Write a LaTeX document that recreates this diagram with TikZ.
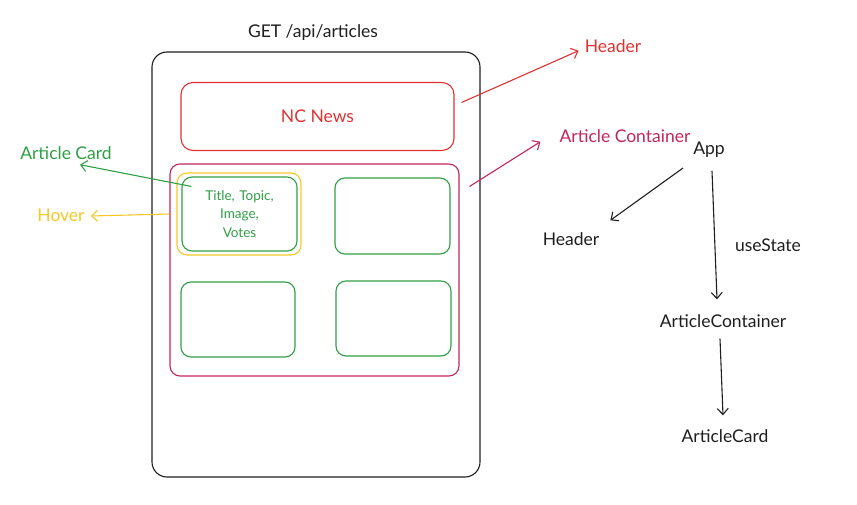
\documentclass[tikz,border=0pt]{standalone}
\usepackage{fontspec}
\setmainfont{Lato}
\usepackage{xcolor}
\usepackage{tikz}
\usetikzlibrary{shapes, arrows.meta, positioning, calc}
\definecolor{inkred}{HTML}{E03131}
\definecolor{inkpink}{HTML}{C2255C}
\definecolor{inkgreen}{HTML}{2F9E44}
\definecolor{inkyellow}{HTML}{F5C827}
\definecolor{inkblack}{HTML}{1E1E1E}
\tikzstyle{frame} = [rectangle, draw=inkblack, line width=1.1pt, rounded corners=15pt]
\tikzstyle{panel} = [rectangle, line width=1.1pt, rounded corners=10pt]
\tikzstyle{card} = [panel, draw=inkgreen, text=inkgreen, minimum width=115pt, minimum height=75pt]
\tikzstyle{label} = [font=\fontsize{17.5}{21}\selectfont, inner sep=2pt]
\tikzstyle{arrow} = [draw, line width=1.1pt, -{Straight Barb[length=6pt, width=11pt]}]

\begin{document}
\begin{tikzpicture}[x=1pt, y=-1pt]
    \useasboundingbox (0,0) rectangle (857,505);

    % Page mock-up
    \node (get) [label, text=inkblack] at (313,33) {GET /api/articles};
    \node (phone) [frame, minimum width=328pt, minimum height=425pt] at (316,264.5) {};
    \node (headerbox) [panel, draw=inkred, text=inkred, rounded corners=12pt, minimum width=273pt, minimum height=68pt, font=\fontsize{17.5}{21}\selectfont] at (317.5,116.5) {NC News};
    \node (container) [panel, draw=inkpink, minimum width=289pt, minimum height=212pt] at (314.5,270) {};
    \node (hoverbox) [panel, draw=inkyellow, minimum width=124pt, minimum height=82pt] at (239,214) {};
    \node (card1) [card, minimum height=74pt, text width=100pt, align=center, font=\fontsize{13.5}{18.5}\selectfont] at (239.5,214) {Title, Topic,\\Image,\\Votes};
    \node (card2) [card, minimum height=76pt] at (392.5,216) {};
    \node (card3) [card, minimum width=114pt] at (238,319.5) {};
    \node (card4) [card] at (393.5,318.5) {};

    % Labels
    \node (lblcard) [label, text=inkgreen] at (66,153) {Article Card};
    \node (lblhover) [label, text=inkyellow] at (61,215) {Hover};
    \node (lblheader) [label, text=inkred] at (613,46) {Header};
    \node (lblcontainer) [label, text=inkpink] at (625,136) {Article Container};

    \draw [arrow, inkgreen] ($(card1.north west)+(10,10)$) -- ($(lblcard.south)+(14,3)$);
    \draw [arrow, inkyellow] (hoverbox.west -| container.west) -- ($(lblhover.east)+(4,1)$);
    \draw [arrow, inkred] ($(headerbox.east)+(7,-14)$) -- ($(lblheader.south west)+(-4,-4)$);
    \draw [arrow, inkpink] ($(container.north east)+(10,23)$) -- ($(lblcontainer.south west)+(-17,-3)$);

    % Component tree
    \node (app) [label, text=inkblack] at (709,150) {App};
    \node (treeheader) [label, text=inkblack] at (571,239) {Header};
    \node (usestate) [label, text=inkblack] at (768,245) {useState};
    \node (treecontainer) [label, text=inkblack] at (723,321) {ArticleContainer};
    \node (treecard) [label, text=inkblack] at (725,436) {ArticleCard};

    \draw [arrow, inkblack] ($(app.south west)+(-8,8)$) -- ($(treeheader.north east)+(9,-10)$);
    \draw [arrow, inkblack] ($(app.south)+(3,11)$) -- ($(treecontainer.north)+(-6,-13)$);
    \draw [arrow, inkblack] ($(treecontainer.south)+(-3,9)$) -- ($(treecard.north)+(-2,-12)$);
\end{tikzpicture}
\end{document}
